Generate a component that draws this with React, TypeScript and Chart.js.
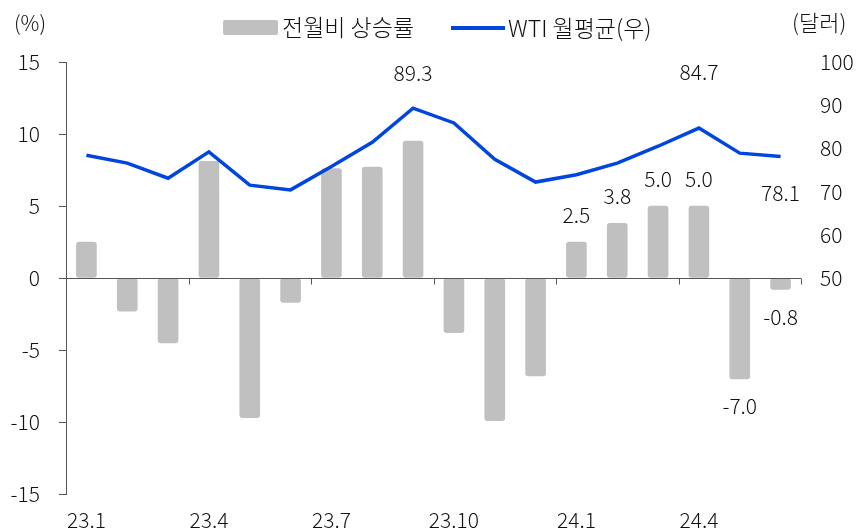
import React, { useEffect, useRef } from "react";
import { Chart, registerables } from "chart.js";

Chart.register(...registerables);

const categories = [
  "23.1", "23.2", "23.3", "23.4", "23.5", "23.6", "23.7", "23.8", "23.9",
  "23.10", "23.11", "23.12", "24.1", "24.2", "24.3", "24.4", "24.5", "24.6",
];
const momChange = [
  2.5, -2.3, -4.5, 8.1, -9.7, -1.7, 7.6, 7.7, 9.5,
  -3.8, -9.9, -6.8, 2.5, 3.8, 5.0, 5.0, -7.0, -0.8,
];
const wtiAvg = [
  78.4, 76.6, 73.1, 79.2, 71.5, 70.4, 75.8, 81.4, 89.3,
  85.9, 77.5, 72.2, 73.9, 76.6, 80.5, 84.7, 78.9, 78.1,
];
const leftTicks = [15, 10, 5, 0, -5, -10, -15];
const rightTicks = [100, 90, 80, 70, 60, 50];
const barLabelIdx = [12, 13, 14, 15, 16, 17];
const lineLabelIdx = [8, 15, 17];
const barLegend = "전월비 상승률";
const lineLegend = "WTI 월평균(우)";
const leftUnit = "(%)";
const rightUnit = "(달러)";

const FONT = "'Noto Sans CJK KR', 'Noto Sans', sans-serif";
const FS = 21;
const FW = 300;
const TXT = "#111";
const BAR = "#c0c0c0";
const LINE = "#0046de";
const AXIS = "#555";

export default function App() {
  const ref = useRef<HTMLCanvasElement>(null);
  useEffect(() => {
    document.body.style.margin = "0";
    const canvas = ref.current!;
    const overlay = {
      id: "overlay",
      afterDatasetsDraw(chart: any) {
        const ctx = chart.ctx as CanvasRenderingContext2D;
        const x = chart.scales.x;
        const y = chart.scales.y;
        const area = chart.chartArea;
        const zeroY = Math.round(y.getPixelForValue(0)) + 0.5;
        ctx.save();
        ctx.strokeStyle = AXIS;
        ctx.lineWidth = 1;
        ctx.beginPath();
        ctx.moveTo(area.left, zeroY);
        ctx.lineTo(area.right, zeroY);
        const n = categories.length;
        const step = x.getPixelForValue(1) - x.getPixelForValue(0);
        for (let i = 0; i <= n; i += 3) {
          const px = i < n ? x.getPixelForValue(i) - step / 2 : x.getPixelForValue(n - 1) + step / 2;
          const xx = Math.round(px) + 0.5;
          ctx.moveTo(xx, zeroY);
          ctx.lineTo(xx, zeroY + 6);
        }
        ctx.stroke();

        ctx.fillStyle = TXT;
        ctx.font = `${FW} ${FS}px ${FONT}`;
        ctx.textAlign = "center";
        ctx.textBaseline = "middle";
        const barMeta = chart.getDatasetMeta(0);
        barLabelIdx.forEach((i) => {
          const el = barMeta.data[i];
          const v = momChange[i];
          const ty = v >= 0 ? el.y - 27 : el.y + 27;
          ctx.fillText(v.toFixed(1), el.x, ty);
        });
        const lineMeta = chart.getDatasetMeta(1);
        const lineOffsets: Record<number, number> = { 8: -35, 15: -56, 17: 36 };
        lineLabelIdx.forEach((i) => {
          const el = lineMeta.data[i];
          ctx.fillText(wtiAvg[i].toFixed(1), el.x, el.y + lineOffsets[i]);
        });

        ctx.textAlign = "left";
        ctx.fillStyle = BAR;
        ctx.beginPath();
        (ctx as any).roundRect(223, 20, 55, 15, 2);
        ctx.fill();
        ctx.fillStyle = TXT;
        ctx.font = `${FW} 23px ${FONT}`;
        ctx.fillText(barLegend, 282, 27);
        ctx.strokeStyle = LINE;
        ctx.lineWidth = 4;
        ctx.beginPath();
        ctx.moveTo(451, 28);
        ctx.lineTo(505, 28);
        ctx.stroke();
        ctx.fillText(lineLegend, 508, 28);
        ctx.font = `${FW} ${FS}px ${FONT}`;
        ctx.fillText(leftUnit, 14, 23);
        ctx.font = `${FW} 22px ${FONT}`;
        ctx.fillText(rightUnit, 792, 23);
        ctx.restore();
      },
    };

    const tickFont = { family: FONT, size: FS, weight: FW };
    const chart = new Chart(canvas, {
      data: {
        labels: categories,
        datasets: [
          {
            type: "bar",
            label: barLegend,
            data: momChange,
            backgroundColor: BAR,
            borderRadius: 3,
            borderSkipped: false,
            barThickness: 20,
            yAxisID: "y",
            order: 1,
          },
          {
            type: "line",
            label: lineLegend,
            data: wtiAvg,
            borderColor: LINE,
            borderWidth: 3.5,
            pointRadius: 0,
            tension: 0,
            yAxisID: "y1",
            order: 0,
          },
        ],
      } as any,
      options: {
        responsive: false,
        animation: false,
        layout: { padding: { top: 62, left: 0, right: 0, bottom: 0 } },
        plugins: { legend: { display: false }, tooltip: { enabled: false } },
        scales: {
          x: {
            type: "category",
            position: "bottom",
            offset: true,
            grid: { display: false, drawTicks: false },
            border: { display: false },
            ticks: {
              autoSkip: false,
              maxRotation: 0,
              padding: 13,
              color: TXT,
              font: tickFont,
              callback: (_v: any, i: number) => (i % 3 === 0 ? categories[i] : ""),
            },
            afterFit: (s: any) => {
              s.height = 38;
            },
          },
          y: {
            position: "left",
            min: -15,
            max: 15,
            afterBuildTicks: (s: any) => {
              s.ticks = leftTicks.map((v) => ({ value: v }));
            },
            grid: { drawOnChartArea: false, drawTicks: true, tickLength: 7, color: AXIS },
            border: { display: true, color: AXIS, width: 1 },
            ticks: { padding: 19, color: TXT, font: tickFont },
            afterFit: (s: any) => {
              s.width = 66;
            },
          },
          y1: {
            position: "right",
            min: 0,
            max: 100,
            afterBuildTicks: (s: any) => {
              s.ticks = rightTicks.map((v) => ({ value: v }));
            },
            grid: { display: false, drawTicks: false },
            border: { display: false },
            ticks: { padding: 19, color: TXT, font: tickFont },
            afterFit: (s: any) => {
              s.width = 58;
            },
          },
        },
      } as any,
      plugins: [overlay],
    });
    return () => chart.destroy();
  }, []);
  return (
    <div style={{ width: 859, height: 532 }}>
      <canvas ref={ref} width={859} height={532} />
    </div>
  );
}
